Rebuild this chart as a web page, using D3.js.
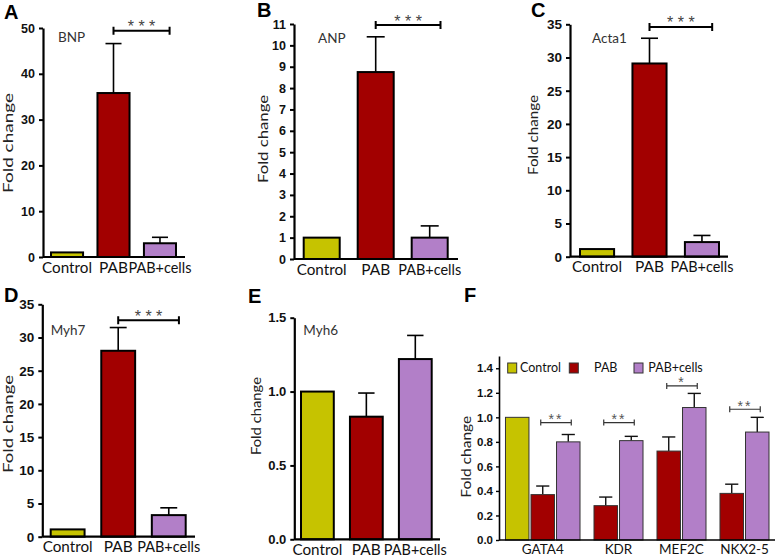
<!DOCTYPE html>
<html><head><meta charset="utf-8">
<script src="https://cdn.jsdelivr.net/npm/d3@7"></script>
<style>body{margin:0;background:#fff}</style></head><body>
<svg id="c" width="778" height="558"></svg>
<script>
// ---------------- data ----------------
const groups = ["Control", "PAB", "PAB+cells"];
const groupColors = ["#c6c300", "#a20000", "#b27fc8"];

const bnpMean = [1.0, 35.8, 3.0];
const bnpErr = [0, 10.8, 1.3];
const anpMean = [1.0, 8.75, 1.0];
const anpErr = [0, 1.65, 0.55];
const acta1Mean = [1.15, 29.1, 2.2];
const acta1Err = [0, 3.8, 1.0];
const myh7Mean = [1.1, 28.0, 3.25];
const myh7Err = [0, 3.5, 1.1];
const myh6Mean = [1.0, 0.83, 1.22];
const myh6Err = [0, 0.16, 0.16];

const genesF = ["GATA4", "KDR", "MEF2C", "NKX2-5"];
const controlF = [1.0, null, null, null];
const pabF = [0.37, 0.28, 0.725, 0.38];
const pabFErr = [0.07, 0.07, 0.115, 0.075];
const cellsF = [0.80, 0.81, 1.08, 0.88];
const cellsFErr = [0.06, 0.035, 0.115, 0.12];
const sigF = ["**", "**", "*", "**"];
const sigYF = [0.957, 0.957, 1.256, 1.066];

const ticksA = [0, 10, 20, 30, 40, 50];
const ticksB = [0, 1, 2, 3, 4, 5, 6, 7, 8, 9, 10, 11];
const ticksC = [0, 5, 10, 15, 20, 25, 30, 35];
const ticksD = [0, 5, 10, 15, 20, 25, 30, 35];
const ticksE = [0, 0.5, 1.0, 1.5];
const ticksF = [0, 0.2, 0.4, 0.6, 0.8, 1.0, 1.2, 1.4];

// ---------------- layout ----------------
const svg = d3.select("#c");
const LABEL_FONT = "Lato, 'Open Sans', sans-serif";
const NUM_FONT = "'Liberation Sans', Arial, sans-serif";
const labelWidth = {"Control": 50, "PAB": 29, "PAB+cells": 63};

const panels = [
  {letter: "A", lx: 4, ly: 19, gene: "BNP", gx: 58, gy: 41.5, mean: bnpMean, err: bnpErr, ymax: 50, ticks: ticksA, fmt: "d",
   ax: [43, 185], bars: [51, 176], pad: 0.31, y0: 257, yTop: 28, sigY: 49.4, tickFs: 12.5,
   titleX: 12.6, titleY: 143, titleLen: 100},
  {letter: "B", lx: 257, ly: 17, gene: "ANP", gx: 318, gy: 42.5, mean: anpMean, err: anpErr, ymax: 11, ticks: ticksB, fmt: "d",
   ax: [294, 458], bars: [303.7, 447.7], pad: 0.333, y0: 259, yTop: 24, sigY: 10.95, tickFs: 12.5,
   titleX: 267.6, titleY: 139, titleLen: 88},
  {letter: "C", lx: 531, ly: 17, gene: "Acta1", gx: 592, gy: 42.5, mean: acta1Mean, err: acta1Err, ymax: 35, ticks: ticksC, fmt: "d",
   ax: [570, 728], bars: [580, 719], pad: 0.35, y0: 256.7, yTop: 24.3, sigY: 34.6, tickFs: 13.5,
   titleX: 537.6, titleY: 135, titleLen: 80},
  {letter: "D", lx: 4, ly: 302, gene: "Myh7", gx: 50.7, gy: 334.5, mean: myh7Mean, err: myh7Err, ymax: 35, ticks: ticksD, fmt: "d",
   ax: [42.3, 195], bars: [50.7, 185.7], pad: 0.33, y0: 536.7, yTop: 304.3, sigY: 32.6, tickFs: 13.5,
   titleX: 12.6, titleY: 424, titleLen: 98},
  {letter: "E", lx: 248, ly: 303, gene: "Myh6", gx: 303.3, gy: 334.5, mean: myh6Mean, err: myh6Err, ymax: 1.5, ticks: ticksE, fmt: ".1f",
   ax: [294.3, 440], bars: [301, 431.7], pad: 0.33, y0: 539.3, yTop: 317.7, sigY: null, tickFs: 13,
   titleX: 260.6, titleY: 416, titleLen: 78}
];

function yTitle(g, x, y, len) {
  g.append("text").attr("transform", `translate(${x},${y}) rotate(-90)`)
    .attr("text-anchor", "middle").attr("font-family", LABEL_FONT).attr("font-size", 13.5)
    .attr("textLength", len).attr("lengthAdjust", "spacingAndGlyphs")
    .attr("fill", "#222").text("Fold change");
}

function drawPanel(p) {
  const g = svg.append("g");
  const y = d3.scaleLinear().domain([0, p.ymax]).range([p.y0, p.yTop]);
  const x = d3.scaleBand().domain(groups).range(p.bars).paddingInner(p.pad).paddingOuter(0);
  const bw = x.bandwidth();
  const rows = groups.map((k, i) => ({k, v: p.mean[i], e: p.err[i], c: groupColors[i]}));

  const eb = rows.filter(d => d.e > 0);
  g.selectAll("line.ev").data(eb).join("line")
    .attr("x1", d => x(d.k) + bw / 2).attr("x2", d => x(d.k) + bw / 2)
    .attr("y1", d => y(d.v)).attr("y2", d => y(d.v + d.e))
    .attr("stroke", "#000").attr("stroke-width", 1.6);
  g.selectAll("line.ec").data(eb).join("line")
    .attr("x1", d => x(d.k) + bw * 0.25).attr("x2", d => x(d.k) + bw * 0.75)
    .attr("y1", d => y(d.v + d.e)).attr("y2", d => y(d.v + d.e))
    .attr("stroke", "#000").attr("stroke-width", 1.6);

  g.selectAll("rect.bar").data(rows).join("rect")
    .attr("x", d => x(d.k)).attr("y", d => y(d.v))
    .attr("width", bw).attr("height", d => y(0) - y(d.v))
    .attr("fill", d => d.c).attr("stroke", "#000").attr("stroke-width", 2);

  const ya = g.append("g").attr("transform", `translate(${p.ax[0]},0)`)
    .call(d3.axisLeft(y).tickValues(p.ticks).tickFormat(d3.format(p.fmt)).tickSize(4).tickSizeOuter(0).tickPadding(4));
  ya.select(".domain").attr("stroke", "#000").attr("stroke-width", 2.2);
  ya.selectAll(".tick line").attr("stroke", "#000").attr("stroke-width", 2);
  ya.selectAll(".tick text").attr("font-family", NUM_FONT).attr("font-weight", "bold")
    .attr("font-size", p.tickFs).attr("fill", "#111");

  g.append("line").attr("x1", p.ax[0]).attr("x2", p.ax[1]).attr("y1", y(0)).attr("y2", y(0))
    .attr("stroke", "#000").attr("stroke-width", 2.2);

  g.selectAll("text.xl").data(groups).join("text")
    .attr("x", d => x(d) + bw / 2).attr("y", y(0) + 15.5)
    .attr("text-anchor", "middle").attr("font-family", LABEL_FONT).attr("font-size", 16)
    .attr("textLength", d => labelWidth[d]).attr("lengthAdjust", "spacingAndGlyphs")
    .attr("fill", "#111").text(d => d);

  g.append("text").attr("x", p.gx).attr("y", p.gy).attr("font-family", LABEL_FONT)
    .attr("font-size", 13.5).attr("fill", "#333").text(p.gene);

  yTitle(g, p.titleX, p.titleY, p.titleLen);

  g.append("text").attr("x", p.lx).attr("y", p.ly).attr("font-family", NUM_FONT)
    .attr("font-weight", "bold").attr("font-size", 20).attr("fill", "#000").text(p.letter);

  if (p.sigY != null) {
    const x1 = x("PAB") + bw / 2, x2 = x("PAB+cells") + bw * 0.8, yy = y(p.sigY);
    g.append("path").attr("d", `M${x1},${yy - 4}V${yy + 4}M${x1},${yy}H${x2}M${x2},${yy - 4}V${yy + 4}`)
      .attr("stroke", "#000").attr("stroke-width", 2).attr("fill", "none");
    g.append("text").attr("x", (x1 + x2) / 2).attr("y", yy + 1.5).attr("text-anchor", "middle")
      .attr("font-family", NUM_FONT).attr("font-size", 16).attr("fill", "#444").text("* * *");
  }
}
panels.forEach(drawPanel);

// ---------------- panel F ----------------
(function () {
  const g = svg.append("g");
  const y0 = 540, yTop = 356, ax = [499, 775];
  const y = d3.scaleLinear().domain([0, 1.5]).range([y0, yTop]);
  const x0 = d3.scaleBand().domain(genesF).range([531, 769]).paddingInner(0.222).paddingOuter(0);
  const x1 = d3.scaleBand().domain(["PAB", "PAB+cells"]).range([0, x0.bandwidth()]).paddingInner(0.08);
  const bw = x1.bandwidth();

  const rows = [];
  genesF.forEach((gn, i) => {
    if (controlF[i] != null) rows.push({gn, k: "Control", v: controlF[i], e: 0, x: x0(gn) - x1.step(), c: groupColors[0]});
    rows.push({gn, k: "PAB", v: pabF[i], e: pabFErr[i], x: x0(gn) + x1("PAB"), c: groupColors[1]});
    rows.push({gn, k: "PAB+cells", v: cellsF[i], e: cellsFErr[i], x: x0(gn) + x1("PAB+cells"), c: groupColors[2]});
  });

  const eb = rows.filter(d => d.e > 0);
  g.selectAll("line.ev").data(eb).join("line")
    .attr("x1", d => d.x + bw / 2).attr("x2", d => d.x + bw / 2)
    .attr("y1", d => y(d.v)).attr("y2", d => y(d.v + d.e))
    .attr("stroke", "#111").attr("stroke-width", 1.4);
  g.selectAll("line.ec").data(eb).join("line")
    .attr("x1", d => d.x + bw * 0.22).attr("x2", d => d.x + bw * 0.78)
    .attr("y1", d => y(d.v + d.e)).attr("y2", d => y(d.v + d.e))
    .attr("stroke", "#111").attr("stroke-width", 1.4);

  g.selectAll("rect.bar").data(rows).join("rect")
    .attr("x", d => d.x).attr("y", d => y(d.v)).attr("width", bw).attr("height", d => y(0) - y(d.v))
    .attr("fill", d => d.c).attr("stroke", "#333").attr("stroke-width", 1);

  const ya = g.append("g").attr("transform", `translate(${ax[0]},0)`)
    .call(d3.axisLeft(y).tickValues(ticksF).tickFormat(d3.format(".1f")).tickSize(3).tickSizeOuter(0).tickPadding(3));
  ya.select(".domain").attr("stroke", "#000").attr("stroke-width", 1.6);
  ya.selectAll(".tick line").attr("stroke", "#000").attr("stroke-width", 1.4);
  ya.selectAll(".tick text").attr("font-family", NUM_FONT).attr("font-weight", "bold")
    .attr("font-size", 11.5).attr("fill", "#111");

  g.append("line").attr("x1", ax[0]).attr("x2", ax[1]).attr("y1", y0).attr("y2", y0)
    .attr("stroke", "#000").attr("stroke-width", 1.6);

  g.selectAll("text.xl").data(genesF).join("text")
    .attr("x", gn => {
      const r = rows.filter(d => d.gn === gn);
      return (d3.min(r, d => d.x) + d3.max(r, d => d.x + bw)) / 2;
    })
    .attr("y", y0 + 13.5).attr("text-anchor", "middle").attr("font-family", LABEL_FONT)
    .attr("font-size", 13.5).attr("fill", "#111").text(d => d);

  genesF.forEach((gn, i) => {
    const xa = x0(gn) + x1("PAB") + bw / 2 - 2, xb = x0(gn) + x1("PAB+cells") + bw / 2 + 3, yy = y(sigYF[i]);
    g.append("path").attr("d", `M${xa},${yy - 3}V${yy + 3}M${xa},${yy}H${xb}M${xb},${yy - 3}V${yy + 3}`)
      .attr("stroke", "#333").attr("stroke-width", 1.2).attr("fill", "none");
    g.append("text").attr("x", (xa + xb) / 2).attr("y", yy + 1.5).attr("text-anchor", "middle")
      .attr("font-family", NUM_FONT).attr("font-size", 14).attr("letter-spacing", 2)
      .attr("fill", "#555").text(sigF[i]);
  });

  const legSq = [507.7, 569.3, 634];
  const legTx = [520, 594, 648.3];
  groups.forEach((k, i) => {
    g.append("rect").attr("x", legSq[i]).attr("y", 363).attr("width", 9).attr("height", 10)
      .attr("fill", groupColors[i]).attr("stroke", "#333").attr("stroke-width", 1);
    g.append("text").attr("x", legTx[i]).attr("y", 372).attr("font-family", LABEL_FONT)
      .attr("font-size", 12.5).attr("fill", "#111").text(k);
  });

  yTitle(g, 471, 456.7, 82);

  g.append("text").attr("x", 464).attr("y", 302).attr("font-family", NUM_FONT)
    .attr("font-weight", "bold").attr("font-size", 20).attr("fill", "#000").text("F");
})();
</script>
</body></html>
